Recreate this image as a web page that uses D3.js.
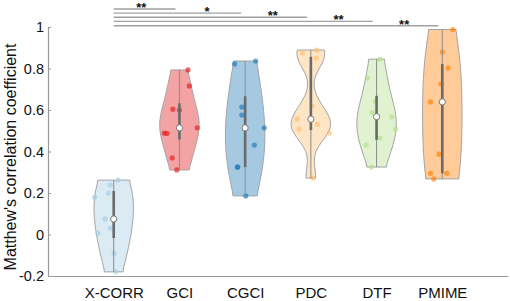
<!DOCTYPE html>
<html>
<head>
<meta charset="utf-8">
<script src="https://cdn.jsdelivr.net/npm/d3@7"></script>
<style>
  body { margin: 0; background: #fff; }
  text { font-family: "Liberation Sans", Arial, Helvetica, sans-serif; }
</style>
</head>
<body>
<script>
// violin plot of MCC per method

var categories = ["X-CORR", "GCI", "CGCI", "PDC", "DTF", "PMIME"];
var colors = ["#a6cee3", "#e31a1c", "#1f78b4", "#fdbf6f", "#b2df8a", "#ff7f00"];

// values, one array per method
var xcorrValues = [0.262, 0.238, 0.2, 0.18, 0.075, 0.03, 0.007, -0.09, -0.18];
var gciValues   = [0.793, 0.716, 0.604, 0.6, 0.489, 0.487, 0.514, 0.369, 0.311];
var cgciValues  = [0.822, 0.836, 0.614, 0.576, 0.514, 0.431, 0.325, 0.325, 0.186];
var pdcValues   = [0.875, 0.889, 0.85, 0.619, 0.556, 0.508, 0.531, 0.489, 0.272];
var dtfValues   = [0.845, 0.754, 0.64, 0.588, 0.568, 0.508, 0.465, 0.431, 0.325];
var pmimeValues = [0.988, 0.879, 0.802, 0.725, 0.639, 0.387, 0.295, 0.268, 0.295];

// horizontal jitter of each dot (category units)
var xcorrJitter = [0.065, -0.056, -0.08, -0.29, -0.13, -0.05, -0.24, 0.005, 0.03];
var gciJitter   = [0.13, 0.15, -0.10, 0.0, -0.23, -0.19, 0.27, -0.11, -0.04];
var cgciJitter  = [-0.16, 0.16, -0.05, -0.05, 0.29, 0.14, -0.11, -0.12, 0.01];
var pdcJitter   = [-0.13, 0.09, 0.08, 0.02, -0.21, -0.18, 0.10, 0.28, 0.03];
var dtfJitter   = [0.05, -0.14, -0.02, -0.07, 0.23, 0.29, 0.05, -0.16, -0.08];
var pmimeJitter = [0.16, 0.0, 0.09, -0.02, -0.18, -0.05, -0.18, -0.13, 0.07];

var yTicks = [-0.2, 0, 0.2, 0.4, 0.6, 0.8, 1];

// significance bars: X-CORR vs each other method
var sigTargets = [2, 3, 4, 5, 6];
var sigLevels  = [1.087, 1.067, 1.047, 1.027, 1.006];
var sigLabels  = ["**", "*", "**", "**", "**"];

var allValues = [xcorrValues, gciValues, cgciValues, pdcValues, dtfValues, pmimeValues];
var allJitter = [xcorrJitter, gciJitter, cgciJitter, pdcJitter, dtfJitter, pmimeJitter];

var width = 510, height = 301;
var svg = d3.select("body").append("svg").attr("width", width).attr("height", height);

var x = d3.scaleLinear().domain([0, 7]).range([48, 508]);
var y = d3.scaleLinear().domain([-0.2, 1]).range([276, 27]);

// matlab style quantile
function mquantile(s, p) {
    var n = s.length;
    var pos = n * p + 0.5;
    if (pos <= 1) return s[0];
    if (pos >= n) return s[n - 1];
    var lo = Math.floor(pos);
    return s[lo - 1] + (pos - lo) * (s[lo] - s[lo - 1]);
}

// gaussian kde like ksdensity, cut to data range
function violinShape(data) {
    var n = data.length;
    var med = d3.median(data);
    var mad = d3.median(data.map(function(v) { return Math.abs(v - med); }));
    var u = (mad / 0.6745) * Math.pow(4 / (3 * n), 0.2);
    var lo = d3.min(data), hi = d3.max(data);
    var grid = d3.range(100).map(function(i) { return lo - 3 * u + i * (hi - lo + 6 * u) / 99; });
    var pts = [];
    grid.forEach(function(g) {
        if (g < lo || g > hi) return;
        var d = d3.sum(data, function(v) { var z = (g - v) / u; return Math.exp(-0.5 * z * z); });
        pts.push([g, d]);
    });
    pts[0][0] = lo;
    pts[pts.length - 1][0] = hi;
    var mx = d3.max(pts, function(p) { return p[1]; });
    pts.forEach(function(p) { p[1] = p[1] / mx * 0.3; });
    return pts;
}

for (var i = 0; i < categories.length; i++) {
    var pos = i + 1;
    var data = allValues[i];
    var s = data.slice().sort(d3.ascending);
    var q1 = mquantile(s, 0.25), q3 = mquantile(s, 0.75), med = d3.median(s);
    var iqr = q3 - q1;
    var lowW = Math.max(q1 - 1.5 * iqr, d3.min(s.filter(function(v) { return v > q1 - 1.5 * iqr; })));
    var hiW = Math.min(q3 + 1.5 * iqr, d3.max(s.filter(function(v) { return v < q3 + 1.5 * iqr; })));

    var shape = violinShape(data);
    var outline = shape.map(function(p) { return [x(pos + p[1]), y(p[0])]; })
        .concat(shape.slice().reverse().map(function(p) { return [x(pos - p[1]), y(p[0])]; }));

    svg.append("path")
        .attr("d", d3.line()(outline) + "Z")
        .style("fill", colors[i])
        .style("fill-opacity", 0.4)
        .style("stroke", "#a3a3a3")
        .style("stroke-width", 1);

    for (var k = 0; k < data.length; k++) {
        svg.append("circle")
            .attr("cx", x(pos + allJitter[i][k]))
            .attr("cy", y(data[k]))
            .attr("r", 2.6)
            .style("fill", colors[i])
            .style("fill-opacity", 0.65);
    }

    svg.append("line")
        .attr("x1", x(pos)).attr("x2", x(pos))
        .attr("y1", y(lowW)).attr("y2", y(hiW))
        .style("stroke", "#8c8c8c")
        .style("stroke-width", 1);

    svg.append("rect")
        .attr("x", x(pos - 0.02)).attr("width", x(pos + 0.02) - x(pos - 0.02))
        .attr("y", y(q3)).attr("height", y(q1) - y(q3))
        .style("fill", "#6b6b6b");

    svg.append("circle")
        .attr("cx", x(pos)).attr("cy", y(med))
        .attr("r", 3.1)
        .style("fill", "#fff")
        .style("stroke", "#7a7a7a")
        .style("stroke-width", 1);
}

// axes
var yAxis = d3.axisLeft(y).tickValues(yTicks)
    .tickFormat(function(d) { return String(+d.toFixed(1)); })
    .tickSizeInner(-3).tickSizeOuter(0).tickPadding(4);
var gy = svg.append("g").attr("transform", "translate(" + x(0) + ",0)").call(yAxis);

var xAxis = d3.axisBottom(x).tickValues([1, 2, 3, 4, 5, 6])
    .tickFormat(function(d) { return categories[d - 1]; })
    .tickSize(0).tickPadding(11);
var gx = svg.append("g").attr("transform", "translate(0," + y(-0.2) + ")").call(xAxis);

svg.selectAll(".domain").style("stroke", "#9a9a9a").style("stroke-width", 1.2);
gy.selectAll(".tick line").style("stroke", "#9a9a9a");
gy.selectAll("text").style("font-size", "14.5px").style("font-family", "Liberation Sans, Arial, sans-serif").style("fill", "#111");
gx.selectAll("text").style("font-size", "15px").style("font-family", "Liberation Sans, Arial, sans-serif").style("fill", "#111");

svg.append("text")
    .attr("transform", "translate(15.5," + 157 + ") rotate(-90)")
    .attr("text-anchor", "middle")
    .style("font-size", "16px")
    .style("fill", "#111")
    .text("Matthew's correlation coefficient");

// significance bars
for (var j = 0; j < sigTargets.length; j++) {
    svg.append("line")
        .attr("x1", x(1)).attr("x2", x(sigTargets[j] - 0.06))
        .attr("y1", y(sigLevels[j])).attr("y2", y(sigLevels[j]))
        .style("stroke", "#a0a0a0")
        .style("stroke-width", 1.4);
    svg.append("text")
        .attr("x", x(sigTargets[j] - 0.58))
        .attr("y", y(sigLevels[j]) + 2.8)
        .attr("text-anchor", "middle")
        .style("font-size", "13px")
        .style("font-weight", "bold")
        .style("fill", "#111")
        .text(sigLabels[j]);
}
</script>
</body>
</html>
